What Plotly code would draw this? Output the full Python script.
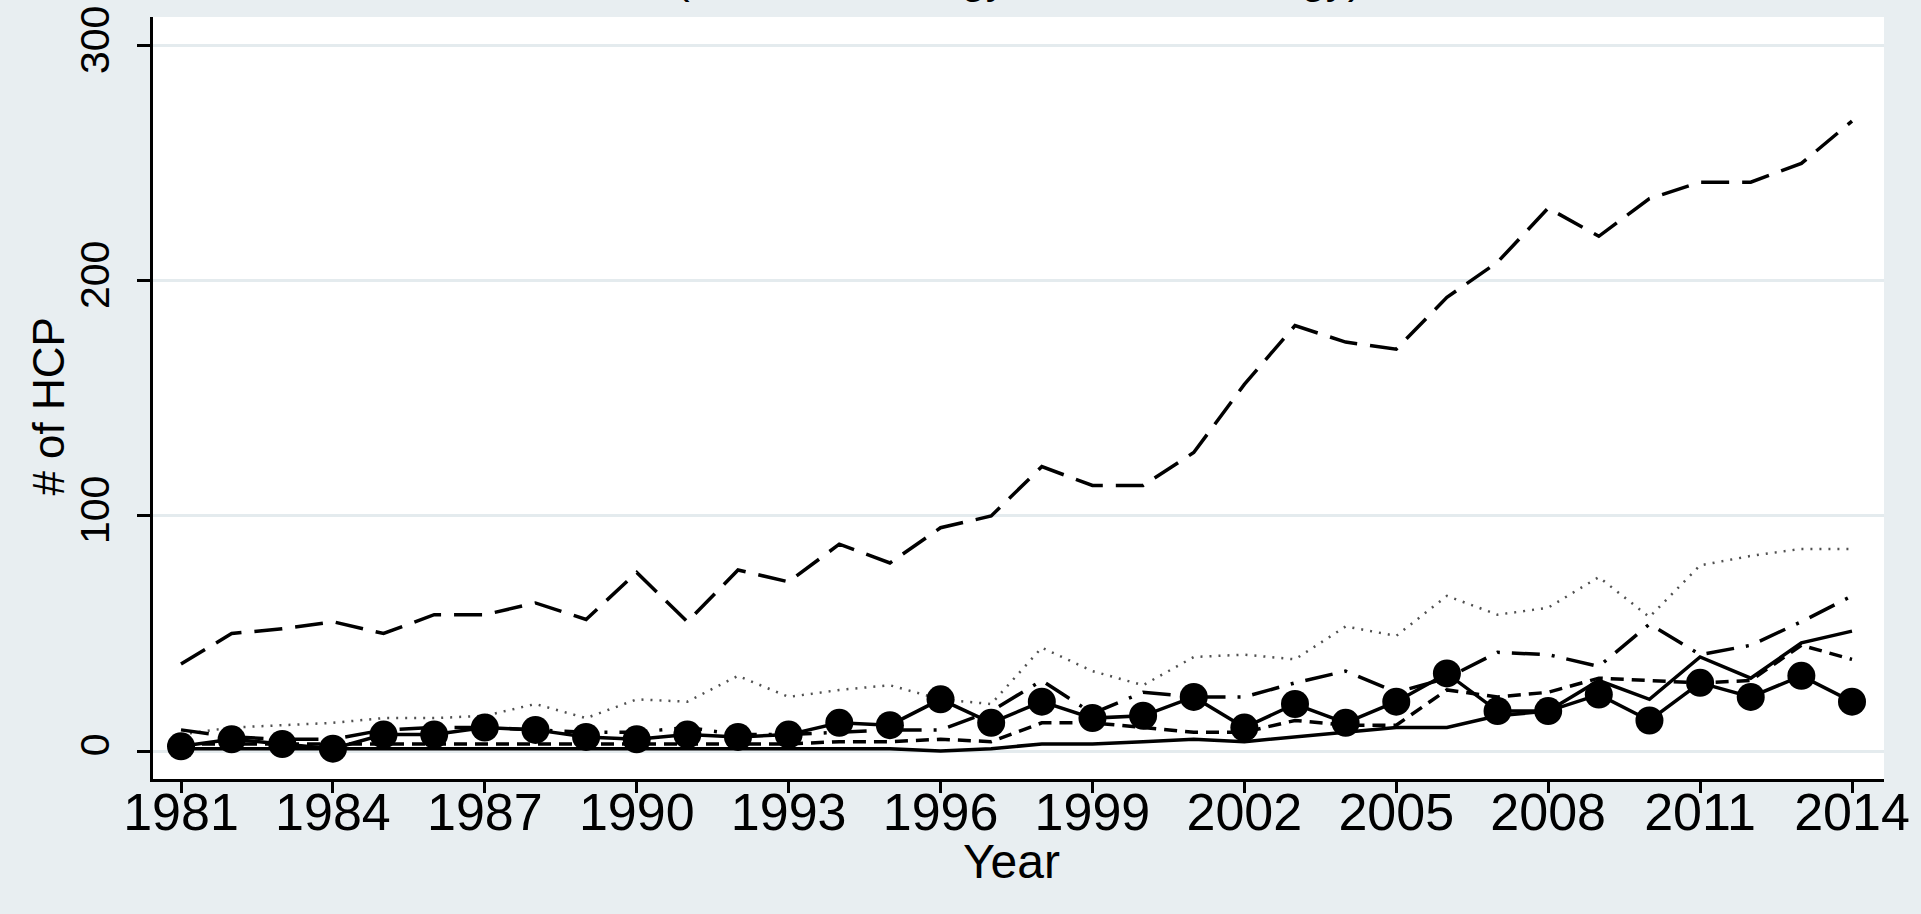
import plotly.graph_objects as go

years = list(range(1981, 2015))
x_tick_years = list(range(1981, 2015, 3))
y_ticks = [0, 100, 200, 300]

series_longdash = [37, 50, 52, 55, 50, 58, 58, 63, 56, 76, 55, 77, 72, 88, 80, 95, 100,
                   121, 113, 113, 127, 156, 181, 174, 171, 193, 208, 231, 219, 235, 242,
                   242, 250, 268]
series_dotted = [7, 10, 11, 12, 14, 14, 15, 20, 14, 22, 21, 32, 23, 26, 28, 22, 20,
                 44, 34, 28, 40, 41, 39, 53, 49, 66, 58, 61, 74, 57, 79, 83, 86, 86]
series_circles = [2, 5, 3, 1, 7, 7, 10, 9, 6, 5, 7, 6, 7, 12, 11, 22, 12,
                  21, 14, 15, 23, 10, 20, 12, 21, 33, 17, 17, 24, 13, 29, 23, 32, 21]
series_solid = [1, 1, 1, 1, 1, 1, 1, 1, 1, 1, 1, 1, 1, 1, 1, 0, 1,
                3, 3, 4, 5, 4, 6, 8, 10, 10, 15, 17, 30, 22, 40, 31, 46, 51]
series_dashdot = [9, 6, 5, 5, 9, 10, 10, 9, 8, 8, 10, 7, 7, 8, 9, 9, 17,
                  30, 16, 25, 23, 23, 29, 34, 25, 31, 42, 41, 36, 54, 41, 45, 55, 66]
series_shortdash = [3, 3, 3, 3, 3, 3, 3, 3, 3, 3, 3, 3, 3, 4, 4, 5, 4,
                    12, 12, 10, 8, 8, 13, 11, 11, 26, 23, 25, 31, 30, 29, 30, 45, 39]

FONT = "Liberation Sans, Arial, sans-serif"

fig = go.Figure()

fig.add_trace(go.Scatter(x=years, y=series_dotted, mode="lines",
                         line=dict(color="#505050", width=2.5, dash="2px,7px")))
fig.add_trace(go.Scatter(x=years, y=series_solid, mode="lines",
                         line=dict(color="black", width=3.5, dash="solid")))
fig.add_trace(go.Scatter(x=years, y=series_shortdash, mode="lines",
                         line=dict(color="black", width=3.5, dash="13px,8px")))
fig.add_trace(go.Scatter(x=years, y=series_dashdot, mode="lines",
                         line=dict(color="black", width=3.5, dash="28px,12px,3px,12px")))
fig.add_trace(go.Scatter(x=years, y=series_longdash, mode="lines",
                         line=dict(color="black", width=3.5, dash="28px,13px")))
fig.add_trace(go.Scatter(x=years, y=series_circles, mode="lines+markers",
                         line=dict(color="black", width=3.5),
                         marker=dict(color="black", size=28, symbol="circle")))

fig.update_layout(
    width=1921, height=914,
    margin=dict(l=153, r=37, t=17, b=135),
    paper_bgcolor="#E8EEF1",
    plot_bgcolor="white",
    showlegend=False,
    font=dict(family=FONT, color="black", size=48),
)

fig.add_annotation(text="(Nanotechnology or Biotechnology)", xref="paper", yref="paper",
                   x=0.5, y=1.0171, xanchor="center", yanchor="bottom", showarrow=False,
                   font=dict(family=FONT, size=44, color="black"))
fig.add_annotation(text="Year", xref="paper", yref="paper",
                   x=0.4957, y=-0.108, xanchor="center", yanchor="middle", showarrow=False,
                   font=dict(family=FONT, size=48, color="black"))
fig.add_annotation(text="# of HCP", xref="paper", yref="paper", textangle=-90,
                   x=-0.0601, y=0.49, xanchor="center", yanchor="middle", showarrow=False,
                   font=dict(family=FONT, size=44, color="black"))

fig.update_xaxes(
    range=[1980.447, 2014.632], automargin=False,
    tickmode="array", tickvals=x_tick_years, ticktext=[str(v) for v in x_tick_years],
    ticks="outside", ticklen=11, tickwidth=2.5, tickcolor="black",
    ticklabelstandoff=-25,
    showline=True, linecolor="black", linewidth=2.5,
    showgrid=False, zeroline=False,
    tickfont=dict(family=FONT, size=52),
)
fig.update_yaxes(
    range=[-11.9, 312.3], automargin=False,
    tickmode="array", tickvals=y_ticks, ticktext=[str(v) for v in y_ticks],
    tickangle=-90, ticklabelstandoff=12,
    ticks="outside", ticklen=13, tickwidth=2.5, tickcolor="black",
    showline=True, linecolor="black", linewidth=2.5,
    showgrid=True, gridcolor="#E4EBEE", gridwidth=2.5, zeroline=False,
    tickfont=dict(family=FONT, size=41),
)

fig.write_html("out.html", config={"displayModeBar": False},
               post_script="document.body.style.margin='0';document.body.style.overflow='hidden';")
